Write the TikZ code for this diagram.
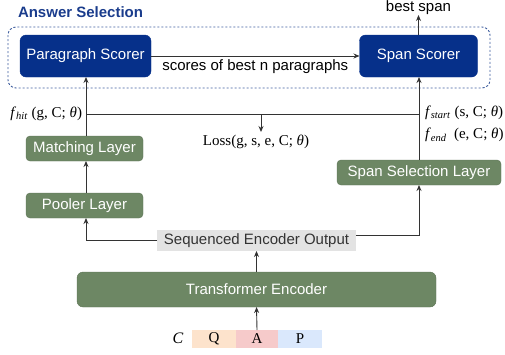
\documentclass[tikz,border=0pt]{standalone}
\usepackage{fontspec}
\setmainfont{Liberation Serif}
\setsansfont{Liberation Sans}
\usetikzlibrary{arrows.meta}
\definecolor{navy}{HTML}{06308A}
\definecolor{leaf}{HTML}{6D8764}
\definecolor{titleblue}{HTML}{1A3C8C}
\definecolor{framec}{HTML}{3F5E9E}
\definecolor{seqgray}{HTML}{E3E3E3}
\definecolor{qcol}{HTML}{FDE3CC}
\definecolor{acol}{HTML}{F6CACA}
\definecolor{pcol}{HTML}{DAE8FC}
\definecolor{wire}{HTML}{333333}
\begin{document}
\begin{tikzpicture}[x=1pt,y=-1pt,
  every node/.style={inner sep=0pt, outer sep=0pt},
  sans/.style={font=\sffamily\fontsize{15}{18}\selectfont},
  serif/.style={font=\rmfamily\fontsize{15}{18}\selectfont},
  scorer/.style={sans, draw=navy, fill=navy, text=white, rounded corners=6pt, minimum height=42pt},
  layer/.style={sans, draw=leaf!85!black, fill=leaf, text=white, rounded corners=4pt},
  token/.style={serif, minimum height=18pt},
  wirestyle/.style={draw=wire, line width=0.9pt},
  arr/.style={wirestyle, -{Stealth[length=6pt,width=5pt]}}
]
\useasboundingbox (0,0) rectangle (505,354);

% answer selection group
\node[font=\sffamily\bfseries\fontsize{15}{18}\selectfont, text=titleblue, anchor=west] (title) at (18,12) {Answer Selection};
\draw[framec, line width=0.9pt, dash pattern=on 2.2pt off 1.8pt, rounded corners=8pt] (8,27) rectangle (490,88);
\node[scorer, minimum width=131pt] (para) at (85.5,56) {Paragraph Scorer};
\node[scorer, minimum width=118pt] (span) at (418.5,56) {Span Scorer};
\node[sans] (best) at (418.5,8) {best span};

% layers
\node[layer, minimum width=117pt, minimum height=25pt] (match) at (84.5,148.5) {Matching Layer};
\node[layer, minimum width=117pt, minimum height=25pt] (pool) at (84.5,205.5) {Pooler Layer};
\node[layer, minimum width=164pt, minimum height=25pt] (spansel) at (419,172.5) {Span Selection Layer};
\node[sans, fill=seqgray, text=black!80, minimum width=199pt, minimum height=21pt] (seq) at (256.5,240.5) {Sequenced Encoder Output};
\node[layer, rounded corners=6pt, minimum width=359pt, minimum height=35pt] (enc) at (256.5,289.5) {Transformer Encoder};

% input tokens
\node[token, fill=qcol, minimum width=44pt] (q) at (214,339) {Q};
\node[token, fill=acol, minimum width=42pt] (a) at (257,339) {A};
\node[token, fill=pcol, minimum width=44pt] (p) at (300,339) {P};
\node[serif, font=\rmfamily\itshape\fontsize{16}{18}\selectfont] (cin) at (178,338) {C};

% score labels
\node[serif, anchor=east] (fhit) at (82,114) {\textit{f}\textsubscript{\textit{hit}} (g, C; \textit{θ})};
\node[serif, anchor=west] (fstart) at (425,113) {\textit{f}\textsubscript{\textit{start}} (s, C; \textit{θ})};
\node[serif, anchor=west] (fend) at (425,135) {\textit{f}\textsubscript{\textit{end}}\ \ (e, C; \textit{θ})};
\node[serif] (loss) at (256,142) {Loss(g, s, e, C; \textit{θ})};

% junctions
\coordinate (hl) at (86,114);
\coordinate (hr) at (419,114);
\coordinate (lossin) at (261,114);
\coordinate (lossout) at (261,132);
\coordinate (seqL) at (86,240.5);
\coordinate (seqR) at (419,235);

% connectors
\draw[arr] (a.north) -- (enc.south);
\draw[arr] (enc.north -| seq.south) -- (seq.south);
\draw[arr] (seq.west) -- (seqL) -- (pool.south -| seqL);
\draw[arr] (seq.east |- seqR) -- (seqR) -- (spansel.south -| seqR);
\draw[arr] (pool.north -| seqL) -- (match.south -| seqL);
\draw[arr] (match.north -| seqL) -- (para.south -| seqL);
\draw[arr] (spansel.north -| seqR) -- (span.south -| seqR);
\draw[arr] (span.north) -- (best.south);
\draw[wirestyle] (hl) -- (hr);
\draw[arr] (lossin) -- (lossout);
\draw[arr] (para.east) -- node[sans, below=4pt] {scores of best n paragraphs} (span.west);
\end{tikzpicture}
\end{document}
